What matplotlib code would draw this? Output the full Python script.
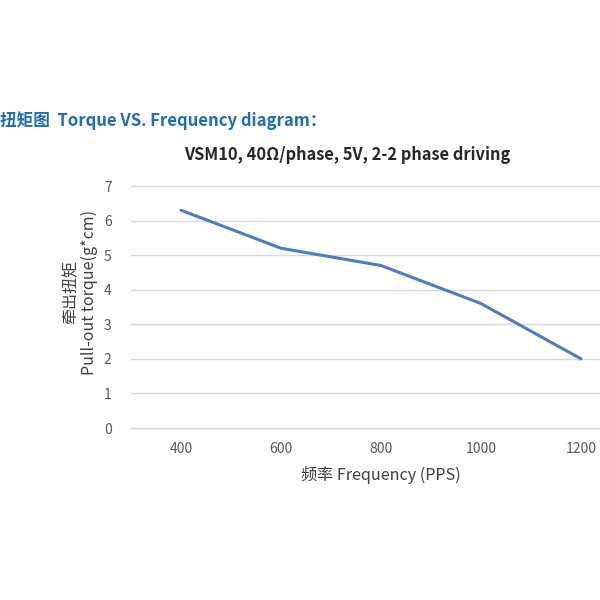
import matplotlib
matplotlib.use("Agg")
import matplotlib.pyplot as plt

plt.rcParams['font.family'] = ['Noto Sans CJK SC', 'DejaVu Sans']

# Data
frequencies = ["400", "600", "800", "1000", "1200"]
torque = [6.3, 5.2, 4.7, 3.6, 2.0]
y_ticks = [0, 1, 2, 3, 4, 5, 6, 7]

header = "扭矩图  Torque VS. Frequency diagram："
title = "VSM10, 40Ω/phase, 5V, 2-2 phase driving"
x_label = "频率 Frequency (PPS)"
y_label = "牵出扭矩\nPull-out torque(g*cm)"

fig = plt.figure(figsize=(6, 6), dpi=100)
# plot area: x 131..631 px, y 186..428 px (figure is 600x600)
ax = fig.add_axes([131 / 600, 1 - 428 / 600, 500 / 600, 242 / 600])

x = list(range(len(frequencies)))
ax.plot(x, torque, color="#4f7cbf", linewidth=2.2, solid_capstyle="round")

ax.set_xlim(-0.5, len(frequencies) - 0.5)
ax.set_ylim(0, 7)
ax.set_yticks(y_ticks)
ax.set_xticks(x)
ax.set_xticklabels(frequencies)
ax.grid(axis="y", color="#d9d9d9", linewidth=1)
for gl in ax.get_ygridlines():
    gl.set_clip_on(False)
ax.set_axisbelow(True)
for s in ax.spines.values():
    s.set_visible(False)
ax.tick_params(length=0, colors="#595959", labelsize=10)
ax.tick_params(axis="y", pad=14)
ax.tick_params(axis="x", pad=10)

fig.text(0.0, 1 - 121 / 600, header, color="#1f6db5", fontsize=12,
         fontweight="bold", va="center", ha="left")
fig.text(347 / 600, 1 - 155 / 600, title, color="#262626", fontsize=11.8,
         fontweight="bold", va="center", ha="center")
fig.text(381 / 600, 1 - 475 / 600, x_label, color="#404040", fontsize=11.6,
         va="center", ha="center")
fig.text(80 / 600, 1 - 292 / 600, y_label, color="#404040", fontsize=11.5,
         va="center", ha="center", rotation=90, linespacing=1.1)

fig.savefig("out.png", dpi=100)
